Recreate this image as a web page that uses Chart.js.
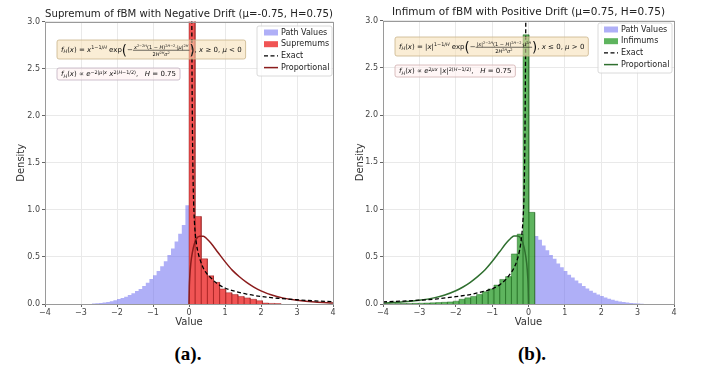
<!DOCTYPE html>
<html>
<head>
<meta charset="utf-8">
<script src="https://cdn.jsdelivr.net/npm/chart.js@4.4.1/dist/chart.umd.min.js"></script>
<style>
  body { margin: 0; background: #fff; width: 701px; height: 371px; position: relative; overflow: hidden; }
  #ca { position: absolute; left: 0; top: 0; }
  #cb { position: absolute; left: 350px; top: 0; }
  .cap { position: absolute; top: 343px; font: bold 19px "Liberation Serif", serif; transform: translateX(-50%); color: #000; }
</style>
</head>
<body>
<canvas id="ca" width="350" height="340"></canvas>
<canvas id="cb" width="351" height="340"></canvas>
<div class="cap" style="left:188px">(a).</div>
<div class="cap" style="left:532px">(b).</div>
<script>
// ─── Data ───────────────────────────────────────────────────────────────────
const xTicks = [-4, -3, -2, -1, 0, 1, 2, 3, 4];
const yTicks = [0, 0.5, 1, 1.5, 2, 2.5, 3];

// (a) path values: bins of 0.1 from -2.7
const pathA_start = -2.7, pathA_w = 0.1;
const pathA_h = [0.004, 0.007, 0.011, 0.016, 0.022, 0.030, 0.040, 0.052, 0.064, 0.078, 0.095, 0.115, 0.137,
  0.160, 0.190, 0.225, 0.265, 0.305, 0.350, 0.400, 0.455, 0.520, 0.590, 0.665, 0.745, 0.840, 1.050];
// (a) supremums: bins of 0.17 from 0
const supA_start = 0, supA_w = 0.17;
const supA_h = [3.4, 0.93, 0.48, 0.30, 0.23, 0.16, 0.12, 0.10, 0.08, 0.065, 0.05, 0.035, 0.01, 0.006, 0.004];
const exactA_x = [0.075, 0.085, 0.1, 0.12, 0.15, 0.2, 0.25, 0.3, 0.4, 0.5, 0.6, 0.77, 1.0, 1.32, 1.6, 2.0, 2.5, 3.0, 3.5, 4.0];
const exactA_y = [3.3, 2.4, 1.7, 1.2, 0.88, 0.66, 0.55, 0.48, 0.38, 0.32, 0.28, 0.22, 0.17, 0.13, 0.105, 0.08, 0.06, 0.045, 0.033, 0.025];
const propA_x = [0, 0.01, 0.02, 0.05, 0.1, 0.15, 0.2, 0.3, 0.4, 0.5, 0.6, 0.8, 1.0, 1.2, 1.4, 1.6, 1.8, 2.0, 2.3, 2.6, 3.0, 3.5, 4.0];
const propA_y = [0, 0.19, 0.28, 0.43, 0.56, 0.64, 0.69, 0.72, 0.72, 0.69, 0.65, 0.55, 0.45, 0.36, 0.29, 0.23, 0.18, 0.14, 0.095, 0.065, 0.04, 0.02, 0.01];

// (b) path values: bins of 0.1 from 0.17
const pathB_start = 0.17, pathB_w = 0.1;
const pathB_h = [0.72, 0.68, 0.62, 0.57, 0.52, 0.48, 0.43, 0.39, 0.35, 0.31, 0.28, 0.25, 0.22, 0.19, 0.165,
  0.14, 0.12, 0.10, 0.085, 0.07, 0.055, 0.045, 0.035, 0.027, 0.02, 0.015, 0.011, 0.008, 0.005, 0.003];
// (b) infimums: bins of 0.16 from -3.99
const infB_start = -3.99, infB_w = 0.16;
const infB_h = [0.003, 0.003, 0.004, 0.005, 0.006, 0.007, 0.008, 0.01, 0.012, 0.015, 0.018, 0.022, 0.03,
  0.05, 0.065, 0.08, 0.10, 0.13, 0.16, 0.20, 0.26, 0.29, 0.53, 0.74, 2.85, 0.97];
const exactB_x = [-4.0, -3.5, -3.0, -2.5, -2.0, -1.6, -1.32, -1.0, -0.77, -0.6, -0.5, -0.4, -0.3, -0.25, -0.2, -0.15, -0.12, -0.1, -0.085, -0.07];
const exactB_y = [0.022, 0.03, 0.04, 0.055, 0.078, 0.1, 0.125, 0.16, 0.21, 0.27, 0.32, 0.38, 0.48, 0.56, 0.68, 0.9, 1.2, 1.7, 2.4, 3.3];
const propB_x = [-4.0, -3.5, -3.0, -2.6, -2.3, -2.0, -1.8, -1.6, -1.4, -1.2, -1.0, -0.8, -0.6, -0.5, -0.4, -0.3, -0.2, -0.15, -0.1, -0.05, -0.02, -0.01, 0];
const propB_y = [0.01, 0.02, 0.04, 0.065, 0.095, 0.14, 0.18, 0.23, 0.29, 0.36, 0.45, 0.55, 0.65, 0.69, 0.72, 0.72, 0.69, 0.64, 0.56, 0.43, 0.28, 0.19, 0];

// ─── Helpers ────────────────────────────────────────────────────────────────
const zip = (xs, ys) => xs.map((x, i) => ({ x, y: ys[i] }));
// outline of a histogram without edges (step profile closed to 0)
function stepOutline(start, w, h) {
  const pts = [{ x: start, y: 0 }];
  h.forEach((v, i) => { pts.push({ x: start + i * w, y: v }, { x: start + (i + 1) * w, y: v }); });
  pts.push({ x: start + h.length * w, y: 0 });
  return pts;
}
// every bar drawn as its own closed outline, so edges show like matplotlib
function barOutline(start, w, h) {
  const pts = [];
  h.forEach((v, i) => {
    const l = start + i * w, r = l + w;
    pts.push({ x: l, y: 0 }, { x: l, y: v }, { x: r, y: v }, { x: r, y: 0 });
  });
  return pts;
}

const FONT = '"DejaVu Sans"';
const fnt = (size, it) => `${it ? 'italic ' : ''}${size}px ${FONT}`;

// tiny mathtext-ish renderer: strings upright, {i} italic, {sup}/{sub}, {num,den} fraction, {big} paren
function rich(ctx, toks, x, y, size, draw) {
  let w = 0;
  for (const t of toks) {
    if (typeof t === 'string' || t.i !== undefined) {
      const s = typeof t === 'string' ? t : t.i;
      ctx.font = fnt(size, typeof t !== 'string');
      if (draw) ctx.fillText(s, x + w, y);
      w += ctx.measureText(s).width;
    } else if (t.sup) {
      w += rich(ctx, t.sup, x + w, y - size * 0.42, size * 0.7, draw);
    } else if (t.sub) {
      w += rich(ctx, t.sub, x + w, y + size * 0.22, size * 0.7, draw);
    } else if (t.big) {
      ctx.font = fnt(size * 1.9, false);
      if (draw) ctx.fillText(t.big, x + w, y + size * 0.45);
      w += ctx.measureText(t.big).width;
    } else if (t.num) {
      const fs = size * 0.72;
      const wn = rich(ctx, t.num, 0, 0, fs, false), wd = rich(ctx, t.den, 0, 0, fs, false);
      const fw = Math.max(wn, wd) + 2;
      if (draw) {
        rich(ctx, t.num, x + w + (fw - wn) / 2, y - size * 0.45, fs, true);
        rich(ctx, t.den, x + w + (fw - wd) / 2, y + size * 0.6, fs, true);
        ctx.fillRect(x + w, y - size * 0.3, fw, 0.6);
      }
      w += fw;
    }
  }
  return w;
}

const H_ = [{ i: 'H' }];
const fH = [{ i: 'f' }, { sub: H_ }, '(', { i: 'x' }, ')'];
const exactTokA = [...fH, ' = ', { i: 'x' }, { sup: ['1−1/', { i: 'H' }] }, ' exp', { big: '(' }, '−',
  { num: [{ i: 'x' }, { sup: ['2−2', { i: 'H' }] }, '(1 − ', { i: 'H' }, ')', { sup: ['2', { i: 'H' }, '−2'] }, '·|', { i: 'μ' }, '|', { sup: ['2', { i: 'H' }] }],
    den: ['2', { i: 'H' }, { sup: ['2', { i: 'H' }] }, { i: 'σ' }, { sup: ['2'] }] },
  { big: ')' }, ', ', { i: 'x' }, ' ≥ 0, ', { i: 'μ' }, ' < 0'];
const propTokA = [...fH, ' ∝ ', { i: 'e' }, { sup: ['−2|', { i: 'μ' }, '|', { i: 'x' }] }, ' ', { i: 'x' },
  { sup: ['2(', { i: 'H' }, '−1/2)'] }, ',   ', { i: 'H' }, ' = 0.75'];
const exactTokB = [...fH, ' = |', { i: 'x' }, '|', { sup: ['1−1/', { i: 'H' }] }, ' exp', { big: '(' }, '−',
  { num: ['|', { i: 'x' }, '|', { sup: ['2−2', { i: 'H' }] }, '(1 − ', { i: 'H' }, ')', { sup: ['2', { i: 'H' }, '−2'] }, '·', { i: 'μ' }, { sup: ['2', { i: 'H' }] }],
    den: ['2', { i: 'H' }, { sup: ['2', { i: 'H' }] }, { i: 'σ' }, { sup: ['2'] }] },
  { big: ')' }, ', ', { i: 'x' }, ' ≤ 0, ', { i: 'μ' }, ' > 0'];
const propTokB = [...fH, ' ∝ ', { i: 'e' }, { sup: ['2', { i: 'μ' }, { i: 'x' }] }, ' |', { i: 'x' }, '|',
  { sup: ['2(', { i: 'H' }, '−1/2)'] }, ',   ', { i: 'H' }, ' = 0.75'];

// per-canvas decoration settings (kept outside Chart's option resolver)
const decorCfg = {};

// ─── Plugin: formula boxes, legend, axes frame ─────────────────────────────
const decor = {
  id: 'decor',
  afterDatasetsDraw(chart) {
    const cfg = decorCfg[chart.canvas.id];
    if (!cfg) return;
    const ctx = chart.ctx, a = chart.chartArea;
    ctx.save();
    ctx.textBaseline = 'alphabetic';
    for (const b of cfg.boxes) {
      const w = rich(ctx, b.toks, 0, 0, b.size, false) + 2 * b.pad;
      const x = a.left + b.dx;
      ctx.beginPath();
      if (ctx.roundRect) ctx.roundRect(x, b.top, w, b.h, 2); else ctx.rect(x, b.top, w, b.h);
      ctx.fillStyle = b.bg; ctx.fill();
      ctx.lineWidth = 0.8; ctx.strokeStyle = b.border; ctx.stroke();
      ctx.fillStyle = '#111';
      rich(ctx, b.toks, x + b.pad, b.top + b.h / 2 + b.size * 0.35, b.size, true);
    }
    // legend
    const L = cfg.legend;
    ctx.beginPath();
    if (ctx.roundRect) ctx.roundRect(L.x, L.y, L.w, L.h, 2); else ctx.rect(L.x, L.y, L.w, L.h);
    ctx.fillStyle = 'rgba(255,255,255,0.8)'; ctx.fill();
    ctx.lineWidth = 0.8; ctx.strokeStyle = '#d0d0d0'; ctx.stroke();
    ctx.textBaseline = 'middle';
    chart.data.datasets.forEach((ds, i) => {
      const cy = L.y + L.first + i * L.row, sx = L.x + L.sx;
      if (ds.kind === 'bar') {
        ctx.fillStyle = ds.backgroundColor;
        ctx.fillRect(sx, cy - 3, 14, 6);
      } else {
        ctx.strokeStyle = ds.borderColor; ctx.lineWidth = ds.borderWidth;
        ctx.setLineDash(ds.borderDash || []);
        ctx.beginPath(); ctx.moveTo(sx, cy); ctx.lineTo(sx + 14, cy); ctx.stroke();
        ctx.setLineDash([]);
      }
      ctx.fillStyle = '#222'; ctx.font = fnt(8, false);
      ctx.fillText(ds.label, sx + 17, cy);
    });
    ctx.restore();
  },
  afterDraw(chart) {
    const ctx = chart.ctx, a = chart.chartArea;
    ctx.save();
    ctx.strokeStyle = '#9a9a9a'; ctx.lineWidth = 1;
    ctx.strokeRect(Math.round(a.left) + 0.5, Math.round(a.top) + 0.5, Math.round(a.right - a.left), Math.round(a.bottom - a.top));
    ctx.restore();
  }
};

function makeChart(id, p) {
  decorCfg[id] = { boxes: p.boxes, legend: p.legend };
  const tickFont = { family: FONT, size: 8 };
  return new Chart(document.getElementById(id), {
    type: 'line',
    data: {
      datasets: [
        { label: 'Path Values', kind: 'bar', data: p.path, backgroundColor: 'rgba(110,110,240,0.55)', borderColor: 'rgba(0,0,0,0)',
          borderWidth: 0, fill: 'origin', pointRadius: 0, tension: 0, order: 4 },
        { label: p.histLabel, kind: 'bar', data: p.hist, backgroundColor: p.histColor, borderColor: p.histEdge,
          borderWidth: 0.6, fill: 'origin', pointRadius: 0, tension: 0, order: 3 },
        { label: 'Exact', kind: 'line', data: p.exact, borderColor: '#000', borderDash: [4, 2.5], borderWidth: 1.3,
          fill: false, pointRadius: 0, cubicInterpolationMode: 'monotone', order: 1 },
        { label: 'Proportional', kind: 'line', data: p.prop, borderColor: p.propColor, borderWidth: 1.5,
          fill: false, pointRadius: 0, cubicInterpolationMode: 'monotone', order: 2 }
      ]
    },
    options: {
      responsive: false, animation: false,
      layout: { padding: { left: 0, right: p.padRight, top: 0, bottom: 0 } },
      plugins: {
        legend: { display: false }, tooltip: { enabled: false },
        title: { display: true, fullSize: false, text: p.title, color: '#222', font: { family: FONT, size: 10.5, weight: 'normal' },
          padding: p.titlePad }
      },
      scales: {
        x: {
          type: 'linear', min: xTicks[0], max: xTicks[xTicks.length - 1],
          afterFit: s => { s.height = 36; },
          ticks: { stepSize: xTicks[1] - xTicks[0], color: '#444', font: tickFont, padding: 1, maxRotation: 0,
            callback: v => (v < 0 ? '−' + Math.abs(v) : String(v)) },
          grid: { color: '#e9e9e9', tickLength: 3, tickColor: '#666' },
          border: { display: false },
          title: { display: true, text: 'Value', color: '#333', font: { family: FONT, size: 10 }, padding: { top: 12, bottom: 12 } }
        },
        y: {
          min: yTicks[0], max: yTicks[yTicks.length - 1],
          afterFit: s => { s.width = p.yWidth; },
          ticks: { stepSize: yTicks[1] - yTicks[0], color: '#444', font: tickFont, padding: 2, callback: v => v.toFixed(1) },
          grid: { color: '#e9e9e9', tickLength: 3, tickColor: '#666' },
          border: { display: false },
          title: { display: true, text: 'Density', color: '#333', font: { family: FONT, size: 10 }, padding: { top: p.yTitlePad, bottom: p.yTitlePad } }
        }
      }
    },
    plugins: [decor]
  });
}

makeChart('ca', {
  title: 'Supremum of fBM with Negative Drift (μ=-0.75, H=0.75)',
  titlePad: { top: 8, bottom: 1 }, padRight: 17, yWidth: 45, yTitlePad: 15.5,
  path: stepOutline(pathA_start, pathA_w, pathA_h),
  hist: barOutline(supA_start, supA_w, supA_h), histLabel: 'Supremums',
  histColor: 'rgba(235,30,30,0.76)', histEdge: 'rgba(140,20,20,0.7)',
  exact: zip(exactA_x, exactA_y), prop: zip(propA_x, propA_y), propColor: '#8b1c1c',
  boxes: [
    { toks: exactTokA, size: 7, pad: 4, dx: 12, top: 40, h: 19, bg: 'rgba(245,222,179,0.55)', border: '#c9b48a' },
    { toks: propTokA, size: 7, pad: 4, dx: 12, top: 68, h: 12, bg: 'rgba(255,240,240,0.6)', border: '#c0b0c0' }
  ],
  legend: { x: 257, y: 26, w: 75, h: 50, first: 6.5, row: 11.7, sx: 7 }
});

makeChart('cb', {
  title: 'Infimum of fBM with Positive Drift (μ=0.75, H=0.75)',
  titlePad: { top: 6, bottom: 2 }, padRight: 27, yWidth: 33, yTitlePad: 4.5,
  path: stepOutline(pathB_start, pathB_w, pathB_h),
  hist: barOutline(infB_start, infB_w, infB_h), histLabel: 'Infimums',
  histColor: 'rgba(40,155,40,0.75)', histEdge: 'rgba(20,90,20,0.7)',
  exact: zip(exactB_x, exactB_y), prop: zip(propB_x, propB_y), propColor: '#2f6f2f',
  boxes: [
    { toks: exactTokB, size: 7, pad: 4, dx: 12, top: 37, h: 19, bg: 'rgba(245,222,179,0.55)', border: '#c9b48a' },
    { toks: propTokB, size: 7, pad: 4, dx: 12, top: 65, h: 12, bg: 'rgba(255,240,240,0.6)', border: '#d0b0b0' }
  ],
  legend: { x: 248, y: 23, w: 74, h: 50, first: 6.5, row: 11.7, sx: 6 }
});
</script>
</body>
</html>
